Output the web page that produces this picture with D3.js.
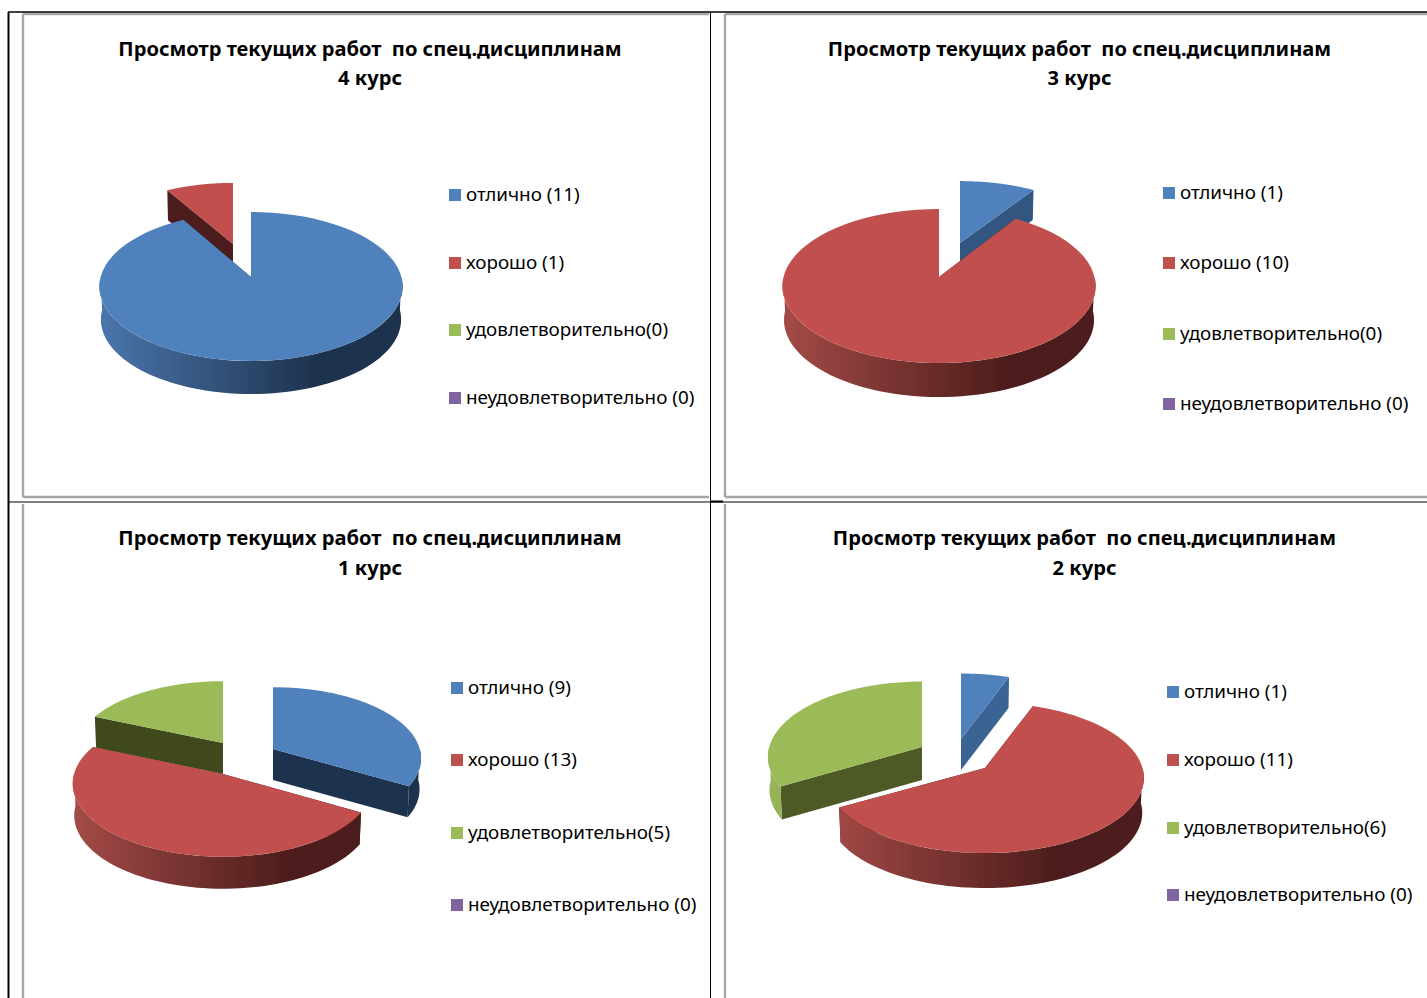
<!DOCTYPE html>
<html><head><meta charset="utf-8">
<script src="https://cdn.jsdelivr.net/npm/d3@7/dist/d3.min.js"></script>
<style>html,body{margin:0;padding:0;background:#fff;overflow:hidden}svg{display:block}text{white-space:pre}</style>
</head><body><svg id="c" width="1427" height="998"></svg>
<script>
// ---- data ----
const titleLine = "Просмотр текущих работ  по спец.дисциплинам";
const courses = ["4 курс", "3 курс", "1 курс", "2 курс"];
const values4 = [11, 1, 0, 0];
const values3 = [1, 10, 0, 0];
const values1 = [9, 13, 5, 0];
const values2 = [1, 11, 6, 0];
const labels4 = ["отлично (11)", "хорошо (1)", "удовлетворительно(0)", "неудовлетворительно (0)"];
const labels3 = ["отлично (1)", "хорошо (10)", "удовлетворительно(0)", "неудовлетворительно (0)"];
const labels1 = ["отлично (9)", "хорошо (13)", "удовлетворительно(5)", "неудовлетворительно (0)"];
const labels2 = ["отлично (1)", "хорошо (11)", "удовлетворительно(6)", "неудовлетворительно (0)"];

// ---- layout and styling (not data) ----
const colors = ["#4f81bd", "#c0504d", "#9bbb59", "#8064a2"];
const wallLight = ["#4a76ab", "#a34a47", "#9ab95a", "#8064a2"];
const wallDark = ["#1e324e", "#4d1d1b", "#404a1f", "#3f3151"];
const panels = [
 {values: values4, labels: labels4, course: courses[0], titleX: 370, titleY: [49, 78], legX: 449, legY: [195, 263, 330, 398],
  apex: [251, 277], rx: 150.4, ry: 73.3, k: .1275, depth: 33, order: [1, 0],
  parts: {0: {d: [0, 0], s: [1, 1], wall: "#1e324e"}, 1: {d: [-18, -33], s: [.97, .94], depth: 30, wall: "#4d1d1b"}}},
 {values: values3, labels: labels3, course: courses[1], titleX: 1079.5, titleY: [49, 78], legX: 1163, legY: [193, 263, 334, 404],
  apex: [939, 277], rx: 155.5, ry: 76, k: .117, depth: 34, order: [0, 1],
  parts: {0: {d: [21, -34], s: [.96, .91], depth: 30, wall: "#33567f"}, 1: {d: [0, 0], s: [1, 1], wall: "#4d1d1b"}}},
 {values: values1, labels: labels1, course: courses[2], titleX: 370, titleY: [538, 568], legX: 451, legY: [688, 760, 833, 905],
  apex: [223, 774], rx: 149, ry: 72, k: .13, depth: 32, order: [2, 0, 1],
  parts: {0: {d: [50, -25], s: [.985, .97], depth: 31, wall: "#1e324e"}, 1: {d: [0, 0], s: [1, 1], wall: "#4d1d1b"}, 2: {d: [0, -31], s: [.985, .97], depth: 31, wall: "#404a1f"}}},
 {values: values2, labels: labels2, course: courses[3], titleX: 1084.5, titleY: [538, 568], legX: 1167, legY: [692, 760, 828, 895],
  apex: [985, 768], rx: 157.5, ry: 74, k: .13, depth: 35, order: [0, 2, 1],
  parts: {0: {d: [-24, -29], s: [1, 1], depth: 31, wall: "#3b6393"}, 1: {d: [0, 0], s: [1, 1], wall: "#4d1d1b"}, 2: {d: [-63, -21], s: [.97, 1], depth: 33, wall: "#4e5a28"}}}
];
const fontFamily = '"Noto Sans", sans-serif';

const svg = d3.select("#c");
const defs = svg.append("defs");
defs.append("filter").attr("id", "soft").attr("x", "-5%").attr("y", "-5%").attr("width", "110%").attr("height", "110%")
  .append("feGaussianBlur").attr("stdDeviation", .45);
const pie = d3.pie().sort(null).startAngle(0).endAngle(2 * Math.PI);
const line = d3.line();

// frame of the page table and the chart borders
const frameGray = "#a6a6a6";
const grayLines = [[23,14,709,14],[23,14,23,497],[23,497,709,497],[725,14,1427,14],[725,14,725,497],[725,497,1427,497],[23,504,23,998],[725,504,725,998]];
svg.selectAll(".gray").data(grayLines).join("line").attr("class", "gray")
  .attr("x1", d => d[0]).attr("y1", d => d[1]).attr("x2", d => d[2]).attr("y2", d => d[3])
  .attr("stroke", frameGray).attr("stroke-width", 2.4);
const blackLines = [[8.5,12,8.5,998,2],[8,12,1427,12,1.5],[8,502,1427,502,1.2],[710.5,12,710.5,998,1],[710,501.5,723,501.5,2]];
svg.selectAll(".black").data(blackLines).join("line").attr("class", "black")
  .attr("x1", d => d[0]).attr("y1", d => d[1]).attr("x2", d => d[2]).attr("y2", d => d[3])
  .attr("stroke", "#000").attr("stroke-width", d => d[4]);

panels.forEach((p, pi) => {
  const g = svg.append("g");
  const pg = g.append("g").attr("filter", "url(#soft)");
  const arcs = pie(p.values);
  const project = (theta, r) => {
    const u = r * Math.sin(theta), v = -r * Math.cos(theta), w = 1 - p.k * v;
    return [p.rx * u / w, p.ry * v / w];
  };
  p.order.forEach(i => {
    const a = arcs[i], part = p.parts[i];
    const depth = part.depth || p.depth;
    const ox = p.apex[0] + part.d[0], oy = p.apex[1] + part.d[1];
    const top = (t, r = 1) => { const q = project(t, r); return [ox + q[0] * part.s[0], oy + q[1] * part.s[1]]; };
    const bot = (t, r = 1) => { const q = project(t, r); return [ox + q[0] * part.s[0] * .99, oy + q[1] * part.s[1] + depth]; };
    const sweep = (t0, t1) => d3.range(0, 73).map(n => t0 + (t1 - t0) * n / 72);

    // radial cut walls
    [a.startAngle, a.endAngle].forEach(t => {
      pg.append("path").attr("fill", part.wall)
       .attr("d", line([top(t, 0), top(t), bot(t), bot(t, 0)]) + "Z");
    });
    // outer curved wall (front half only) with a left-to-right shade
    const t0 = Math.max(a.startAngle, Math.PI / 2), t1 = Math.min(a.endAngle, 3 * Math.PI / 2);
    if (t1 > t0) {
      const id = "w" + pi + "_" + i;
      const gr = defs.append("linearGradient").attr("id", id).attr("gradientUnits", "userSpaceOnUse")
        .attr("x1", ox - p.rx).attr("x2", ox + p.rx).attr("y1", 0).attr("y2", 0);
      gr.append("stop").attr("offset", 0).attr("stop-color", wallLight[i]);
      gr.append("stop").attr("offset", .72).attr("stop-color", wallDark[i]);
      gr.append("stop").attr("offset", 1).attr("stop-color", wallDark[i]);
      const ts = sweep(t0, t1);
      pg.append("path").attr("fill", `url(#${id})`)
       .attr("d", line(ts.map(t => top(t)).concat(ts.slice().reverse().map(t => bot(t)))) + "Z");
    }
    // top face
    pg.append("path").attr("fill", colors[i])
     .attr("d", line([top(0, 0)].concat(sweep(a.startAngle, a.endAngle).map(t => top(t)))) + "Z");
  });

  // title
  const tt = g.append("g").attr("font-family", fontFamily).attr("font-weight", 700).attr("font-size", 20.1)
    .attr("text-anchor", "middle").attr("fill", "#000");
  [titleLine, p.course].forEach((s, j) => tt.append("text").attr("x", p.titleX).attr("y", p.titleY[j]).attr("dy", ".36em").text(s));

  // legend
  const lg = g.append("g").attr("font-family", fontFamily).attr("font-size", 18.85).attr("fill", "#000");
  p.labels.forEach((s, j) => {
    lg.append("rect").attr("x", p.legX).attr("y", p.legY[j] - 6).attr("width", 12).attr("height", 12).attr("fill", colors[j]);
    lg.append("text").attr("x", p.legX + 17).attr("y", p.legY[j]).attr("dy", ".34em").text(s);
  });
});
</script></body></html>
